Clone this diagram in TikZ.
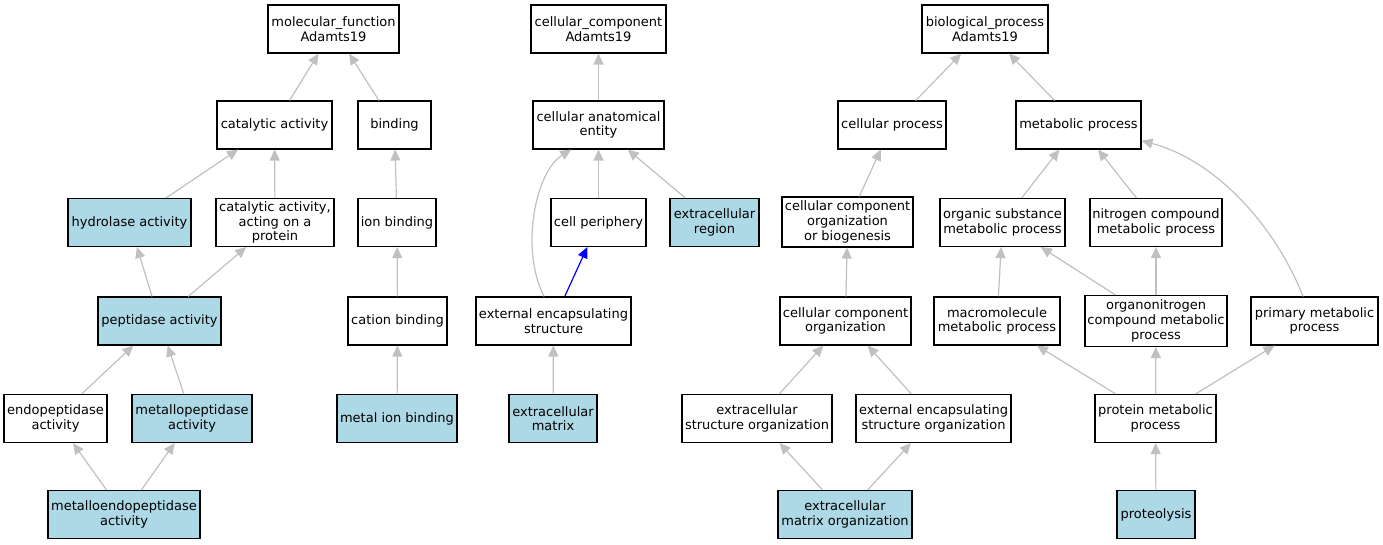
\documentclass[tikz,border=0pt]{standalone}
\usepackage{fontspec}
\setmainfont{DejaVu Sans}
\usetikzlibrary{arrows.meta}
\definecolor{edgegray}{HTML}{C0C0C0}
\definecolor{hlblue}{HTML}{ADD8E6}
\tikzset{
  box/.style={draw=black, line width=1.1pt, rectangle, inner sep=0pt, minimum height=48pt,
    align=center, font=\fontsize{13}{14.6}\selectfont, fill=white},
  hl/.style={box, fill=hlblue},
  conn/.style={draw=edgegray, line width=1.2pt, -{Triangle[length=11pt,width=10pt]}},
  bconn/.style={draw=blue, line width=1.2pt, -{Triangle[length=11pt,width=10pt]}}
}
\begin{document}
\begin{tikzpicture}[x=1pt,y=-1pt]
\useasboundingbox (0,0) rectangle (1383,544);
% molecular function
\node[box, minimum width=131pt] (mf) at (333.5,29) {molecular\_function\\Adamts19};
\node[box, minimum width=115pt] (cat) at (274.5,125) {catalytic activity};
\node[box, minimum width=73pt] (bind) at (394.5,125) {binding};
\node[hl, minimum width=123pt] (hyd) at (129.5,222.5) {hydrolase activity};
\node[box, minimum width=118pt] (catp) at (275,222.5) {catalytic activity,\\acting on a\\protein};
\node[box, minimum width=78pt] (ionb) at (397,222.5) {ion binding};
\node[hl, minimum width=123pt] (pep) at (159.5,321) {peptidase activity};
\node[box, minimum width=99pt] (catb) at (397.5,321) {cation binding};
\node[box, minimum width=103pt] (endo) at (55.5,418.5) {endopeptidase\\activity};
\node[hl, minimum width=120pt] (metp) at (192,418.5) {metallopeptidase\\activity};
\node[hl, minimum width=120pt] (mib) at (397,418.5) {metal ion binding};
\node[hl, minimum width=152pt] (mendo) at (124,514.5) {metalloendopeptidase\\activity};
% cellular component
\node[box, minimum width=135pt] (cc) at (598.5,29) {cellular\_component\\Adamts19};
\node[box, minimum width=131pt] (cae) at (598.5,125) {cellular anatomical\\entity};
\node[box, minimum width=95pt] (cp) at (598.5,222.5) {cell periphery};
\node[hl, minimum width=89pt] (er) at (714.5,222.5) {extracellular\\region};
\node[box, minimum width=155pt] (ees) at (553.5,321) {external encapsulating\\structure};
\node[hl, minimum width=88pt] (em) at (553,418.5) {extracellular\\matrix};
% biological process
\node[box, minimum width=126pt] (bp) at (985,29) {biological\_process\\Adamts19};
\node[box, minimum width=108pt] (cpr) at (892,125) {cellular process};
\node[box, minimum width=125pt] (mp) at (1078.5,125) {metabolic process};
\node[box, minimum width=131pt, minimum height=50pt] (ccob) at (847.5,222) {cellular component\\organization\\or biogenesis};
\node[box, minimum width=125pt] (osmp) at (1002.5,222.5) {organic substance\\metabolic process};
\node[box, minimum width=132pt] (ncmp) at (1156,222.5) {nitrogen compound\\metabolic process};
\node[box, minimum width=131pt] (cco) at (845.5,321) {cellular component\\organization};
\node[box, minimum width=126pt] (mmp) at (997,321) {macromolecule\\metabolic process};
\node[box, minimum width=142pt, minimum height=51pt] (onmp) at (1156,321) {organonitrogen\\compound metabolic\\process};
\node[box, minimum width=127pt] (pmp) at (1314.5,321) {primary metabolic\\process};
\node[box, minimum width=150pt] (eso) at (757,418.5) {extracellular\\structure organization};
\node[box, minimum width=155pt] (eeso) at (933.5,418.5) {external encapsulating\\structure organization};
\node[box, minimum width=121pt] (prmp) at (1155.5,418.5) {protein metabolic\\process};
\node[hl, minimum width=134pt] (ecmo) at (845,514.5) {extracellular\\matrix organization};
\node[hl, minimum width=78pt] (prot) at (1156,514.5) {proteolysis};
% edges MF
\draw[conn] (cat) -- (mf);
\draw[conn] (bind) -- (mf);
\draw[conn] (hyd) -- (cat);
\draw[conn] (catp) -- (cat);
\draw[conn] (ionb) -- (bind);
\draw[conn] (pep) -- (hyd);
\draw[conn] (pep) -- (catp);
\draw[conn] (catb) -- (ionb);
\draw[conn] (endo) -- (pep);
\draw[conn] (metp) -- (pep);
\draw[conn] (mib) -- (catb);
\draw[conn] (mendo) -- (endo);
\draw[conn] (mendo) -- (metp);
% edges CC
\draw[conn] (cae) -- (cc);
\draw[conn] (cp) -- (cae);
\draw[conn] (er) -- (cae);
\draw[conn] (ees.111.6) .. controls (520,250) and (535,172) .. (cae.222);
\draw[bconn] (ees) -- (cp);
\draw[conn] (em) -- (ees);
% edges BP
\draw[conn] (cpr) -- (bp);
\draw[conn] (mp) -- (bp);
\draw[conn] (ccob) -- (cpr);
\draw[conn] (cco) -- (ccob);
\draw[conn] (eso) -- (cco);
\draw[conn] (eeso) -- (cco);
\draw[conn] (ecmo) -- (eso);
\draw[conn] (ecmo) -- (eeso);
\draw[conn] (osmp) -- (mp);
\draw[conn] (ncmp) -- (mp);
\draw[conn] (pmp.115.6) .. controls (1275,225) and (1215,160) .. (mp.-14);
\draw[conn] (mmp) -- (osmp);
\draw[conn] (onmp) -- (osmp);
\draw[conn] (onmp) -- (ncmp);
\draw[conn] (prmp) -- (mmp);
\draw[conn] (prmp) -- (onmp);
\draw[conn] (prmp) -- (pmp);
\draw[conn] (prot) -- (prmp);
\end{tikzpicture}
\end{document}
